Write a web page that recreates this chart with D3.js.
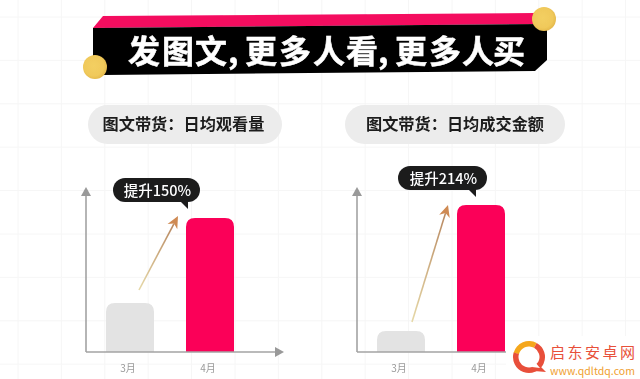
<!DOCTYPE html>
<html>
<head>
<meta charset="utf-8">
<script src="https://cdn.jsdelivr.net/npm/d3@7"></script>
<style>
  html, body { margin: 0; padding: 0; background: #fff; overflow: hidden; }
  text { font-family: "Noto Sans CJK SC", "Noto Sans", sans-serif; }
</style>
</head>
<body>
<div id="chart"></div>
<script>
// Valeurs
const months = ["3月", "4月"]
const viewsValues = [49, 134]
const salesValues = [21, 147]
const chartTitles = ["图文带货：日均观看量", "图文带货：日均成交金额"]
const upliftLabels = ["提升150%", "提升214%"]
const bannerTitle = "发图文, 更多人看, 更多人买"

const width = 640
const height = 379
const baselineY = 352
const axisTopY = 187

const svg = d3
  .select("#chart")
  .append("svg")
  .attr("width", width)
  .attr("height", height)
  .attr("viewBox", [0, 0, width, height])
  .style("display", "block")

const defs = svg.append("defs")

// Dégradé de la pièce
const coinGradient = defs
  .append("radialGradient")
  .attr("id", "coin")
  .attr("cx", "45%")
  .attr("cy", "45%")
  .attr("r", "60%")
coinGradient.append("stop").attr("offset", "0%").attr("stop-color", "#f3cf62")
coinGradient.append("stop").attr("offset", "70%").attr("stop-color", "#f0c95a")
coinGradient.append("stop").attr("offset", "100%").attr("stop-color", "#e2b548")

// Léger flou, la référence est une image compressée
const soft = defs.append("filter").attr("id", "soft")
soft.append("feGaussianBlur").attr("stdDeviation", 0.45)

// Grille de fond
const grid = svg.append("g").attr("stroke", "#f6f6f6").attr("stroke-width", 1)
grid
  .selectAll("line.v")
  .data(d3.range(18, width, 43.4))
  .enter()
  .append("line")
  .attr("class", "v")
  .attr("x1", (d) => d)
  .attr("x2", (d) => d)
  .attr("y1", 0)
  .attr("y2", height)
grid
  .selectAll("line.h")
  .data(d3.range(17, height, 43.4))
  .enter()
  .append("line")
  .attr("class", "h")
  .attr("x1", 0)
  .attr("x2", width)
  .attr("y1", (d) => d)
  .attr("y2", (d) => d)

// Bandeau du titre
const banner = svg.append("g").attr("filter", "url(#soft)")
banner
  .append("polygon")
  .attr("points", "93,28 103,16 535,13 547,24")
  .attr("fill", "#f4095f")
banner
  .append("polygon")
  .attr("points", "93,28 547,24 547,60 535,71 103,75 93,65")
  .attr("fill", "#050505")
banner
  .append("text")
  .attr("x", "128 162 195 228 238 245 279 313 346 378 388 395 429 462 493")
  .attr("y", 63)
  .attr("font-size", 32)
  .attr("font-weight", 700)
  .attr("fill", "#fff")
  .attr("stroke", "#fff")
  .attr("stroke-width", 0.5)
  .text(bannerTitle)

banner
  .selectAll("circle")
  .data([
    [544, 19],
    [95, 67],
  ])
  .enter()
  .append("circle")
  .attr("cx", (d) => d[0])
  .attr("cy", (d) => d[1])
  .attr("r", 12)
  .attr("fill", "url(#coin)")

function generateBarChart(config, index) {
  const g = svg.append("g").attr("filter", "url(#soft)")

  const x = d3
    .scaleBand()
    .domain(months)
    .range(config.barRange)
    .paddingInner(0.4)
    .paddingOuter(0)

  const y = d3
    .scaleLinear()
    .domain([0, 170])
    .range([baselineY, baselineY - 170])

  const barColors = ["#e3e3e3", "#fb0059"]

  // Barres, arrondies en haut seulement
  const radius = 9
  g.selectAll("path.bar")
    .data(config.values)
    .enter()
    .append("path")
    .attr("class", "bar")
    .attr("fill", (d, i) => barColors[i])
    .attr("d", (d, i) => {
      const x0 = x(months[i])
      const x1 = x0 + x.bandwidth()
      const top = y(d)
      return `M${x0},${y(0)}V${top + radius}Q${x0},${top} ${x0 + radius},${top}H${x1 - radius}Q${x1},${top} ${x1},${top + radius}V${y(0)}Z`
    })

  // Axes avec flèches
  const axisColor = "#a3a3a3"
  g.append("line")
    .attr("x1", config.axisX)
    .attr("x2", config.axisX)
    .attr("y1", baselineY)
    .attr("y2", axisTopY + 8)
    .attr("stroke", axisColor)
    .attr("stroke-width", 1.6)
  g.append("polygon")
    .attr("points", `${config.axisX},${axisTopY} ${config.axisX + 5},${axisTopY + 9} ${config.axisX - 5},${axisTopY + 9}`)
    .attr("fill", "#999")
  g.append("line")
    .attr("x1", config.axisX)
    .attr("x2", config.axisEnd - 8)
    .attr("y1", baselineY)
    .attr("y2", baselineY)
    .attr("stroke", axisColor)
    .attr("stroke-width", 1.6)
  g.append("polygon")
    .attr("points", `${config.axisEnd},${baselineY} ${config.axisEnd - 9},${baselineY - 5} ${config.axisEnd - 9},${baselineY + 5}`)
    .attr("fill", "#999")

  // Libellés des mois
  g.append("g")
    .attr("transform", `translate(-2, ${baselineY + 10})`)
    .call(d3.axisBottom(x).tickSize(0))
    .call((s) => s.select(".domain").remove())
    .call((s) =>
      s
        .selectAll("text")
        .attr("font-size", 10)
        .attr("fill", "#9a9a9a")
        .style("font-family", '"Noto Sans CJK SC", sans-serif')
    )

  // Pastille du titre
  g.append("rect")
    .attr("x", config.pill[0])
    .attr("y", 105)
    .attr("width", config.pill[1] - config.pill[0])
    .attr("height", 39)
    .attr("rx", 19.5)
    .attr("fill", "#ececec")
  g.append("text")
    .attr("x", config.titleX)
    .attr("y", 130)
    .attr("text-anchor", "middle")
    .attr("font-size", 16.2)
    .attr("font-weight", 700)
    .attr("fill", "#1d1d1d")
    .text(chartTitles[index])

  // Flèche de progression
  const startX = x(months[0]) + config.arrowStart[0]
  const startY = y(config.values[0]) - config.arrowStart[1]
  const endX = x(months[1]) - config.arrowEnd[0]
  const endY = y(config.values[1]) - config.arrowEnd[1]
  const angle = Math.atan2(endY - startY, endX - startX)
  const headLen = 12
  const neckX = endX - headLen * Math.cos(angle)
  const neckY = endY - headLen * Math.sin(angle)
  const notchX = endX - 8.5 * Math.cos(angle)
  const notchY = endY - 8.5 * Math.sin(angle)

  const gradient = defs
    .append("linearGradient")
    .attr("id", `arrow-${index}`)
    .attr("gradientUnits", "userSpaceOnUse")
    .attr("x1", startX)
    .attr("y1", startY)
    .attr("x2", neckX)
    .attr("y2", neckY)
  gradient.append("stop").attr("offset", "0%").attr("stop-color", "#e6d9a8")
  gradient.append("stop").attr("offset", "100%").attr("stop-color", "#b98a62")

  g.append("line")
    .attr("x1", startX)
    .attr("y1", startY)
    .attr("x2", notchX)
    .attr("y2", notchY)
    .attr("stroke", `url(#arrow-${index})`)
    .attr("stroke-width", 1.6)

  const nx = -Math.sin(angle) * 5.5
  const ny = Math.cos(angle) * 5.5
  g.append("polygon")
    .attr("points", `${endX},${endY} ${neckX + nx},${neckY + ny} ${notchX},${notchY} ${neckX - nx},${neckY - ny}`)
    .attr("fill", "#cf8a52")

  // Bulle
  const tipX = x(months[1]) + config.tip[0]
  const tipY = y(config.values[1]) - config.tip[1]
  const bubbleBottom = tipY - 7
  const bubbleTop = bubbleBottom - 24
  g.append("rect")
    .attr("x", config.bubble[0])
    .attr("y", bubbleTop)
    .attr("width", config.bubble[1] - config.bubble[0])
    .attr("height", 24)
    .attr("rx", 12)
    .attr("fill", "#1b1c1e")
  g.append("polygon")
    .attr("points", `${tipX - 9},${bubbleBottom - 2} ${tipX},${bubbleBottom - 2} ${tipX},${tipY}`)
    .attr("fill", "#1b1c1e")
  g.append("text")
    .attr("x", (config.bubble[0] + config.bubble[1]) / 2 + 1)
    .attr("y", bubbleTop + 17.5)
    .attr("text-anchor", "middle")
    .attr("font-size", 14.5)
    .attr("font-weight", 500)
    .attr("fill", "#fff")
    .text(upliftLabels[index])
}

generateBarChart(
  {
    values: viewsValues,
    barRange: [106, 234],
    axisX: 86,
    axisEnd: 284,
    pill: [88, 282],
    titleX: 183.5,
    bubble: [113, 200],
    tip: [2, 9],
    arrowStart: [33, 13],
    arrowEnd: [8, 2],
  },
  0
)

generateBarChart(
  {
    values: salesValues,
    barRange: [377, 505],
    axisX: 357,
    axisEnd: 556,
    pill: [345, 565],
    titleX: 455,
    bubble: [398, 487],
    tip: [19, 8],
    arrowStart: [35, 9],
    arrowEnd: [9, 0],
  },
  1
)

// Filigrane, sur un fond blanc qui cache la fin de l'axe
const mark = svg.append("g")
mark
  .append("rect")
  .attr("x", 506)
  .attr("y", 336)
  .attr("width", width - 506)
  .attr("height", height - 336)
  .attr("fill", "#fff")
const logo = mark.append("g").attr("filter", "url(#soft)").attr("transform", "translate(529, 357)")
logo
  .append("path")
  .attr("d", d3.arc()({ innerRadius: 10.5, outerRadius: 16, startAngle: -1.3, endAngle: 0.5 }))
  .attr("fill", "#f5a71c")
logo
  .append("path")
  .attr("d", d3.arc()({ innerRadius: 10.5, outerRadius: 16, startAngle: 0.5, endAngle: 5.0 }))
  .attr("fill", "#e8503a")
logo.append("polygon").attr("points", "8,6 17,15 5,14").attr("fill", "#e8503a")
logo.append("polygon").attr("points", "6,5 11,11 3,10").attr("fill", "#fff")
mark
  .append("text")
  .attr("x", 550)
  .attr("y", 357.5)
  .attr("textLength", 85)
  .attr("font-size", 15)
  .attr("fill", "#e8503a")
  .text("启东安卓网")
mark
  .append("text")
  .attr("x", 550)
  .attr("y", 374.5)
  .attr("textLength", 85)
  .attr("font-size", 10.5)
  .attr("fill", "#f0a030")
  .text("www.qdltdq.com")
</script>
</body>
</html>
